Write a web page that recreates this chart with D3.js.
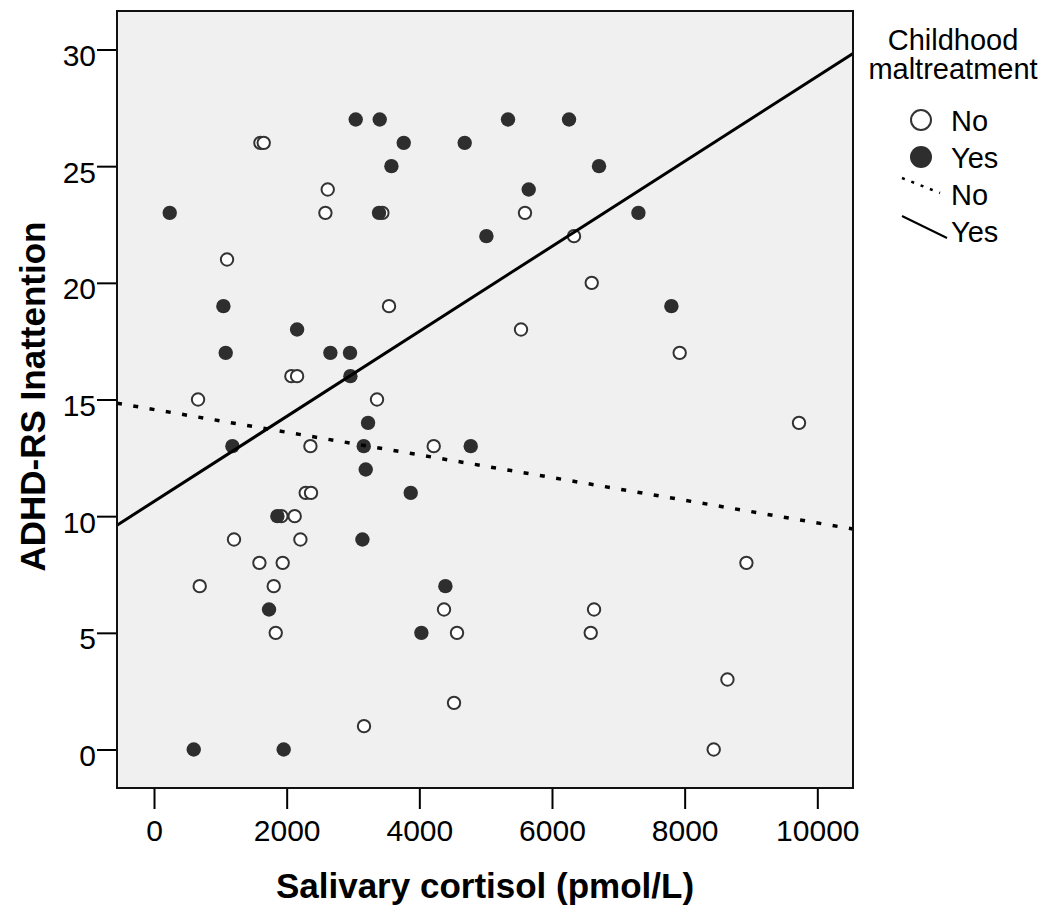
<!DOCTYPE html>
<html>
<head>
<meta charset="utf-8">
<script src="https://cdn.jsdelivr.net/npm/d3@7"></script>
<style>
  body { margin: 0; background: #fff; }
  svg { display: block; font-family: "Liberation Sans", Arial, sans-serif; }
</style>
</head>
<body>
<div class="chart"></div>
<script>
// ---- data ----
// children without maltreatment (open circles)
const noX = [1604, 1654, 2619, 2584, 3443, 1101, 5593, 6332, 3543, 2071, 2157, 664, 3362,
  2358, 4217, 2287, 2367, 1920, 2121, 6599, 5533, 7925, 9724, 1206, 2207, 1589, 1940,
  689, 1805, 4372, 1835, 4568, 4523, 3166, 8931, 6634, 6584, 8645, 8438];
const noY = [26, 26, 24, 23, 23, 21, 23, 22, 19, 16, 16, 15, 15,
  13, 13, 11, 11, 10, 10, 20, 18, 17, 14, 9, 9, 8, 8,
  7, 7, 6, 5, 5, 2, 1, 8, 6, 5, 3, 0];

// children with maltreatment (filled circles)
const yesX = [237, 3041, 3403, 3765, 3579, 4684, 3392, 5011, 5337, 6257, 6709, 5649, 7303,
  1046, 2157, 1081, 2659, 2955, 2961, 3227, 1182, 3162, 4775, 3192, 3870, 1860, 3142,
  4393, 1734, 4031, 599, 1955, 7800];
const yesY = [23, 27, 27, 26, 25, 26, 23, 22, 27, 27, 25, 24, 23,
  19, 18, 17, 17, 17, 16, 14, 13, 13, 13, 12, 11, 10, 9,
  7, 6, 5, 0, 0, 19];

// fit lines: [intercept, slope]
const fitNo = [14.57, -0.000486];
const fitYes = [10.63, 0.001822];

const xTicks = [0, 2000, 4000, 6000, 8000, 10000];
const yTicks = [0, 5, 10, 15, 20, 25, 30];

const legendTitle = ["Childhood", "maltreatment"];
const legendLabels = ["No", "Yes", "No", "Yes"];

// ---- chart ----
const width = 1049;
const height = 912;
const plot = {left: 117, right: 853, top: 11, bottom: 788};

const svg = d3.select(".chart")
  .append("svg")
  .attr("width", width)
  .attr("height", height);

const xScale = d3.scaleLinear()
  .domain([-558, 10538])
  .range([plot.left, plot.right]);

const yScale = d3.scaleLinear()
  .domain([-1.65, 31.65])
  .range([plot.bottom, plot.top]);

// plot background
svg.append("rect")
  .attr("x", plot.left)
  .attr("y", plot.top)
  .attr("width", plot.right - plot.left)
  .attr("height", plot.bottom - plot.top)
  .attr("fill", "#f0f0f0");

// axes
const yAxis = svg.append("g")
  .attr("transform", `translate(${plot.left},0)`)
  .call(d3.axisLeft(yScale).tickValues(yTicks).tickSize(20).tickPadding(1));

const xAxis = svg.append("g")
  .attr("transform", `translate(0,${plot.bottom})`)
  .call(d3.axisBottom(xScale).tickValues(xTicks).tickSize(21).tickPadding(11).tickFormat(d3.format("d")));

[xAxis, yAxis].forEach(g => {
  g.select(".domain").remove();
  g.attr("font-family", null).attr("font-size", null);
  g.selectAll(".tick line").attr("stroke", "#000").attr("stroke-width", 2);
  g.selectAll(".tick text")
    .attr("fill", "#000")
    .style("font-size", "30px");
});
yAxis.selectAll(".tick text").attr("dy", "0.53em");

// points: open first, filled on top
const noPts = noX.map((x, i) => ({x: x, y: noY[i]}));
const yesPts = yesX.map((x, i) => ({x: x, y: yesY[i]}));

svg.append("g")
  .selectAll("circle")
  .data(noPts)
  .join("circle")
    .attr("cx", d => xScale(d.x))
    .attr("cy", d => yScale(d.y))
    .attr("r", 6.2)
    .attr("fill", "#fff")
    .attr("stroke", "#333")
    .attr("stroke-width", 2);

svg.append("g")
  .selectAll("circle")
  .data(yesPts)
  .join("circle")
    .attr("cx", d => xScale(d.x))
    .attr("cy", d => yScale(d.y))
    .attr("r", 7.2)
    .attr("fill", "#2e2e2e");

// fit lines
const ends = xScale.domain();
const line = d3.line().x(d => xScale(d[0])).y(d => yScale(d[1]));

svg.append("path")
  .datum(ends.map(x => [x, fitNo[0] + fitNo[1] * x]))
  .attr("d", line)
  .attr("fill", "none")
  .attr("stroke", "#000")
  .attr("stroke-width", 3.5)
  .attr("stroke-dasharray", "5,11.5");

svg.append("path")
  .datum(ends.map(x => [x, fitYes[0] + fitYes[1] * x]))
  .attr("d", line)
  .attr("fill", "none")
  .attr("stroke", "#000")
  .attr("stroke-width", 3);

// frame
svg.append("rect")
  .attr("x", plot.left)
  .attr("y", plot.top)
  .attr("width", plot.right - plot.left)
  .attr("height", plot.bottom - plot.top)
  .attr("fill", "none")
  .attr("stroke", "#111")
  .attr("stroke-width", 2);

// axis titles
svg.append("text")
  .attr("x", (plot.left + plot.right) / 2)
  .attr("y", 898)
  .attr("text-anchor", "middle")
  .attr("font-weight", "bold")
  .attr("font-size", "35px")
  .text("Salivary cortisol (pmol/L)");

svg.append("text")
  .attr("transform", `translate(45,${(plot.top + plot.bottom) / 2 - 3}) rotate(-90)`)
  .attr("text-anchor", "middle")
  .attr("font-weight", "bold")
  .attr("font-size", "35px")
  .text("ADHD-RS Inattention");

// legend
const legend = svg.append("g");

legend.selectAll(".ltitle")
  .data(legendTitle)
  .join("text")
    .attr("class", "ltitle")
    .attr("x", 953)
    .attr("y", (d, i) => 50 + i * 29)
    .attr("text-anchor", "middle")
    .attr("font-size", "29px")
    .text(d => d);

legend.selectAll(".llabel")
  .data(legendLabels)
  .join("text")
    .attr("class", "llabel")
    .attr("x", 951)
    .attr("y", (d, i) => 131 + i * 37)
    .attr("font-size", "29px")
    .text(d => d);

legend.append("circle")
  .attr("cx", 921).attr("cy", 120).attr("r", 10)
  .attr("fill", "#fff").attr("stroke", "#333").attr("stroke-width", 2);

legend.append("circle")
  .attr("cx", 921).attr("cy", 157).attr("r", 11)
  .attr("fill", "#2e2e2e");

legend.append("line")
  .attr("x1", 902).attr("y1", 178).attr("x2", 940).attr("y2", 193)
  .attr("stroke", "#000").attr("stroke-width", 2.5)
  .attr("stroke-dasharray", "3,7");

legend.append("line")
  .attr("x1", 902).attr("y1", 216).attr("x2", 947).attr("y2", 238)
  .attr("stroke", "#000").attr("stroke-width", 2);
</script>
</body>
</html>
